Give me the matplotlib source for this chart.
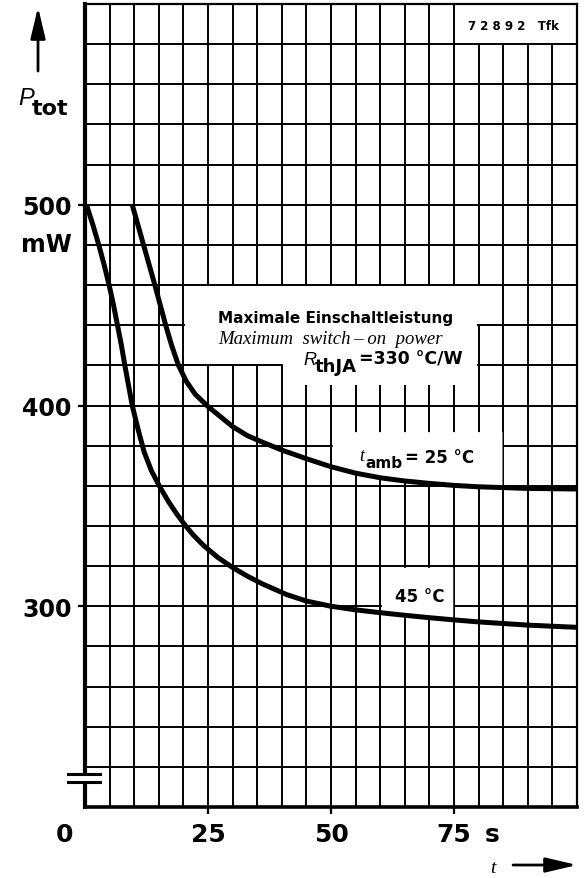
import matplotlib.pyplot as plt
import numpy as np
from matplotlib.patches import Rectangle
from matplotlib.ticker import MultipleLocator

# curve data (t in s, P_tot in mW)
t_25 = [9.6, 10.75, 11.9, 13.05, 14.2, 15.3, 16.4, 17.6, 19, 20.6, 22.4, 25, 27.5, 30, 33,
        36, 40, 45, 50, 55, 60, 65, 70, 75, 80, 90, 100]
p_25 = [500, 490, 480, 470, 460, 450, 440, 430, 420, 412, 405.6, 399.5, 394.5, 389.5, 385,
        381.8, 377.8, 373.5, 369.5, 366.3, 364, 362.4, 361.2, 360.2, 359.5, 358.7, 358.4]
t_45 = [0.3, 1.6, 2.8, 3.9, 4.9, 5.8, 6.6, 7.4, 8.1, 8.85, 9.6, 10.8, 12, 13.5, 15.2, 17,
        18.5, 20.3, 22, 24, 27, 30, 33, 36, 41, 45, 50, 55, 60, 65, 70, 75, 80, 90, 100]
p_45 = [500, 490, 480, 470, 460, 450, 440, 430, 420, 410, 400, 388, 377, 367.5, 359.5, 352,
        346.5, 340.5, 335.5, 330.5, 324.3, 319.3, 315, 311.2, 305.8, 302.6, 300, 298.2, 296.8,
        295.5, 294.3, 293.2, 292.2, 290.6, 289.5]

x_ticks = [25, 50, 75]
x_labels = ["25", "50", "75"]
y_ticks = [300, 400, 500]
y_labels = ["300", "400", "500"]

fig = plt.figure(figsize=(5.84, 8.79), dpi=100)
ax = fig.add_axes([85 / 584, 71 / 879, 492 / 584, 803 / 879])
ax.set_xlim(0, 100)
ax.set_ylim(200, 600)

# grid
ax.set_axisbelow(True)
ax.xaxis.set_minor_locator(MultipleLocator(5))
ax.yaxis.set_minor_locator(MultipleLocator(20))
ax.grid(which="both", color="black", lw=1.4)
ax.set_xticks(x_ticks)
ax.set_xticklabels(x_labels, fontsize=18, fontweight="bold", family="DejaVu Sans")
ax.set_yticks(y_ticks)
ax.set_yticklabels(y_labels, fontsize=17, fontweight="bold", family="DejaVu Sans")
ax.tick_params(which="major", direction="out", length=5, width=1.6, color="black")
ax.tick_params(axis="x", pad=6)
ax.tick_params(axis="y", pad=4.5)
ax.tick_params(which="minor", length=0)

for side in ["top", "right"]:
    ax.spines[side].set_linewidth(1.6)
ax.spines["left"].set_linewidth(3.0)
ax.spines["bottom"].set_linewidth(2.6)

# white areas behind the labels (grid left out there)
white = dict(facecolor="white", edgecolor="none", zorder=1)
et, ep = 0.25, 0.6
ax.add_patch(Rectangle((20 + et, 440 + ep), 65 - 2 * et, 20 - 2 * ep, **white))
ax.add_patch(Rectangle((20 + et, 420 + ep), 60 - 2 * et, 21, **white))
ax.add_patch(Rectangle((40 + et, 410.3), 40 - 2 * et, 11, **white))
ax.add_patch(Rectangle((75 + et, 580 + ep), 25 - 2 * et, 20 - 2 * ep, **white))

tt = np.linspace(50 + et, 85 - et, 60)
ax.fill_between(tt, np.interp(tt, t_25, p_25), 387, color="white", lw=0, zorder=1)
tt = np.linspace(60 + et, 75 - et, 40)
ax.fill_between(tt, np.interp(tt, t_45, p_45), 320 - ep, color="white", lw=0, zorder=1)

# curves
ax.plot(t_25, p_25, color="black", lw=3.6, solid_capstyle="butt", solid_joinstyle="round", zorder=3)
ax.plot(t_45, p_45, color="black", lw=3.6, solid_capstyle="butt", solid_joinstyle="round", zorder=3)

# axis break
ax.add_patch(Rectangle((-1.5, 212.6), 3, 3.7, facecolor="white", edgecolor="none",
                       zorder=5, clip_on=False))
for yb in [216.4, 212.5]:
    ax.plot([-3.5, 3.0], [yb, yb], color="black", lw=2.2, zorder=6, clip_on=False)

# labels inside the chart
bold = dict(family="DejaVu Sans", fontweight="bold", va="baseline")
ax.text(27.0, 441.6, "Maximale Einschaltleistung", fontsize=11, **bold)
ax.text(27.0, 431.1, "Maximum  switch\u2009\u2013\u2009on  power", fontsize=13.5,
        family=["Liberation Serif", "DejaVu Serif"], style="italic", va="baseline")
ax.text(44.3, 420.7, "R", fontsize=13, family="Liberation Sans", style="italic", va="baseline")
ax.text(46.7, 417.0, "thJA", fontsize=13, **bold)
ax.text(55.6, 420.7, "=330 \u00b0C/W", fontsize=12.5, **bold)

ax.text(55.7, 373.0, "t", fontsize=13, family="Liberation Serif", style="italic", va="baseline")
ax.text(56.9, 369.6, "amb", fontsize=11, **bold)
ax.text(65.0, 371.9, "= 25 \u00b0C", fontsize=12, **bold)
ax.text(63.0, 302.6, "45 \u00b0C", fontsize=12, **bold)

ax.text(77.8, 587.5, "7 2 8 9 2   Tfk", fontsize=8.5, **bold)

# axis texts
ax.text(-2.64, 477, "mW", fontsize=17, ha="right", clip_on=False, **bold)
ax.text(-4.07, 183.1, "0", fontsize=18, ha="center", clip_on=False, **bold)
ax.text(81.3, 183.1, "s", fontsize=18, clip_on=False, **bold)
ax.text(-13.6, 550.2, "P", fontsize=17, family="Liberation Sans", style="italic",
        va="baseline", clip_on=False)
ax.text(-10.8, 545.2, "tot", fontsize=16, clip_on=False, **bold)
ax.text(82.3, 167.6, "t", fontsize=14, family="Liberation Serif", style="italic",
        va="baseline", clip_on=False)

arrow = dict(arrowstyle="-|>,head_length=1.9,head_width=0.45", color="black",
             lw=2.0, mutation_scale=10, shrinkA=0, shrinkB=0)
ax.annotate("", xy=(-9.55, 598.5), xytext=(-9.55, 566.6), arrowprops=arrow,
            annotation_clip=False)
ax.annotate("", xy=(100.0, 171.1), xytext=(87.0, 171.1), arrowprops=arrow,
            annotation_clip=False)

fig.savefig("out.png", dpi=100, facecolor="white")
